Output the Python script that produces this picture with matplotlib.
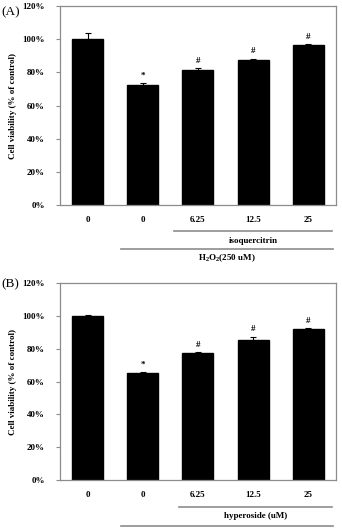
import matplotlib
matplotlib.use("Agg")
import matplotlib.pyplot as plt
import numpy as np

# doses (tick labels) shared by both panels
doses = ["0", "0", "6.25", "12.5", "25"]

# panel A : isoquercitrin
vals_a = [100.0, 72.4, 81.2, 87.6, 96.6]
err_a = [4.0, 1.2, 1.2, 0.8, 0.6]
marks_a = ["", "*", "#", "#", "#"]

# panel B : hyperoside
vals_b = [100.0, 65.3, 77.3, 85.1, 92.0]
err_b = [0.3, 0.5, 0.7, 2.3, 0.5]
marks_b = ["", "*", "#", "#", "#"]

yticks = [0, 20, 40, 60, 80, 100, 120]
ytick_labels = ["0%", "20%", "40%", "60%", "80%", "100%", "120%"]

plt.rcParams.update({
    "font.family": ["Liberation Serif", "DejaVu Serif"],
    "font.weight": "bold",
    "font.size": 6.5,
    "axes.labelweight": "bold",
    "mathtext.fontset": "custom",
    "mathtext.rm": "Liberation Serif:bold",
    "mathtext.bf": "Liberation Serif:bold",
    "mathtext.default": "bf",
})

GRAY = "#8c8c8c"

fig = plt.figure(figsize=(3.42, 5.30), dpi=100)
ax_a = fig.add_axes([0.1754, 0.613, 0.8066, 0.3755])
ax_b = fig.add_axes([0.1754, 0.0943, 0.8066, 0.3717])


def draw_panel(ax, vals, errs, marks, lines):
    x = np.arange(len(vals))
    ax.bar(x, vals, width=0.56, color="black", edgecolor="black")
    ax.errorbar(x, vals, yerr=errs, fmt="none", ecolor="black",
                elinewidth=0.8, capsize=2, capthick=0.8)
    for xi, v, e, m in zip(x, vals, errs, marks):
        if m:
            ax.text(xi, v + e + 2.0, m, ha="center", va="bottom", fontsize=6.5)
    ax.set_xlim(-0.5, len(vals) - 0.5)
    ax.set_ylim(0, 120)
    ax.set_yticks(yticks)
    ax.set_yticklabels(ytick_labels)
    ax.set_xticks(x)
    ax.set_xticklabels(doses)
    ax.tick_params(axis="x", length=0, pad=8)
    ax.tick_params(axis="y", length=3, width=0.8, color=GRAY, pad=8)
    for s in ax.spines.values():
        s.set_color(GRAY)
        s.set_linewidth(0.9)
    ax.set_ylabel("Cell viability (% of control)", fontsize=6.5,
                  fontweight="bold")
    ax.yaxis.set_label_coords(-0.155, 0.5)
    for (x0, x1, y, label, ty) in lines:
        ax.plot([x0, x1], [y, y], transform=ax.transAxes, color=GRAY,
                lw=1.2, clip_on=False)
        if label:
            ax.text((x0 + x1) / 2, ty, label, transform=ax.transAxes,
                    ha="center", va="center", fontsize=6.5)


draw_panel(ax_a, vals_a, err_a, marks_a, [
    (0.413, 0.986, -0.131, "isoquercitrin", -0.178),
    (0.221, 0.989, -0.221, r"H$_2$O$_2$(250 uM)", -0.268),
])
draw_panel(ax_b, vals_b, err_b, marks_b, [
    (0.431, 0.986, -0.136, "hyperoside (uM)", -0.185),
    (0.221, 0.989, -0.234, "", 0),
])

fig.text(0.003, 0.977, "(A)", fontsize=9.5, fontweight="normal", va="center")
fig.text(0.003, 0.464, "(B)", fontsize=9.5, fontweight="normal", va="center")

fig.savefig("out.png", dpi=100)
